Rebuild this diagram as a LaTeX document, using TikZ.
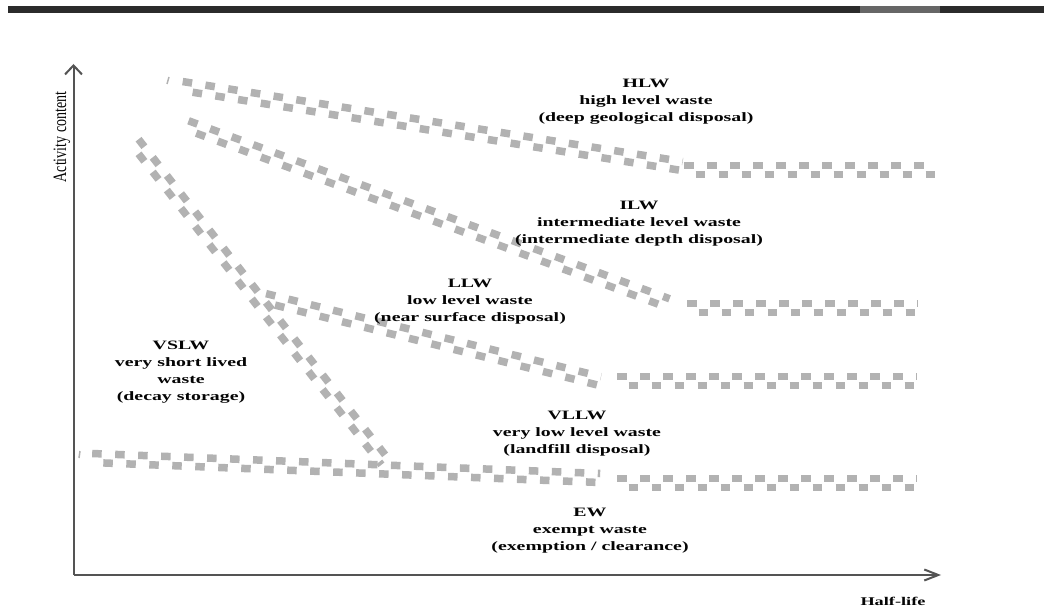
\documentclass[tikz,border=0pt]{standalone}
\usepackage{fontspec}
\setmainfont{Liberation Serif}
\newfontfamily\lblfont[FakeStretch=1.55]{Liberation Serif}
\usetikzlibrary{calc,arrows.meta}
\definecolor{bandgray}{gray}{0.70}
\definecolor{axisgray}{gray}{0.33}
\definecolor{bardark}{gray}{0.17}
\definecolor{barlight}{gray}{0.40}
\definecolor{txt}{gray}{0.02}
\tikzset{
  bandrow/.style={draw=bandgray, line width=7.5pt, dash pattern=on 9.5pt off 13.5pt},
  axisline/.style={draw=axisgray, line width=2pt},
  lbl/.style={font=\lblfont\bfseries\fontsize{12.8}{17}\selectfont, align=center, inner sep=0pt, text=txt},
  tickmark/.style={draw=bandgray, line width=1.5pt},
}
\newcommand\bandseg[2]{%
  \draw[bandrow] ($(#1)!4.5pt!90:(#2)$) -- ($(#2)!4.5pt!-90:(#1)$);
  \draw[bandrow,dash phase=11.5pt] ($(#1)!4.5pt!-90:(#2)$) -- ($(#2)!4.5pt!90:(#1)$);
}
\begin{document}
\begin{tikzpicture}[x=1pt,y=-1pt]
\useasboundingbox (0,0) rectangle (1044,609);
\fill[white] (0,0) rectangle (1044,609);
% top bar
\fill[bardark] (8,6) rectangle (1044,13);
\fill[barlight] (860,6) rectangle (940,13);

% band end points
\coordinate (b1a) at (182,86);
\coordinate (b1b) at (682,166);
\coordinate (b1c) at (684,170);
\coordinate (b1d) at (936,170);
\coordinate (b2a) at (187,125);
\coordinate (b2b) at (668,303);
\coordinate (b2c) at (687,308);
\coordinate (b2d) at (918,308);
\coordinate (b3a) at (265,298);
\coordinate (b3b) at (600,381);
\coordinate (b3c) at (617,381);
\coordinate (b3d) at (917,381);
\coordinate (b4a) at (92,458);
\coordinate (b4b) at (600,478);
\coordinate (b4c) at (617,483);
\coordinate (b4d) at (917,483);
\coordinate (b5a) at (135,142);
\coordinate (b5b) at (385,462);

\bandseg{b1a}{b1b}
\bandseg{b1c}{b1d}
\bandseg{b2a}{b2b}
\bandseg{b2c}{b2d}
\bandseg{b3a}{b3b}
\bandseg{b3c}{b3d}
\bandseg{b4a}{b4b}
\bandseg{b4c}{b4d}
\bandseg{b5a}{b5b}

\coordinate (t1a) at (169,77);
\coordinate (t1b) at (167,84);
\coordinate (t2a) at (80,451);
\coordinate (t2b) at (79,458);
\draw[tickmark] (t1a) -- (t1b);
\draw[tickmark] (t2a) -- (t2b);

% axes
\coordinate (org) at (73.5,575);
\coordinate (ytip) at (73.5,64);
\coordinate (xtip) at (941,575);
\draw[axisline, -{Straight Barb[length=9pt,width=17pt]}] (org) -- (ytip);
\draw[axisline, -{Straight Barb[length=14pt,width=11pt]}] (org) -- (xtip);

\node[rotate=90, inner sep=0pt, text=txt, font=\fontsize{14}{16}\selectfont] (ylab) at (62,137) {\scalebox{1}[1.35]{Activity content}};
\node[lbl, font=\lblfont\bfseries\fontsize{11.8}{14}\selectfont] (xlab) at (893,601) {Half-life};

% region labels
\node[lbl] (hlw) at (646,102) {HLW\\high level waste\\(deep geological disposal)};
\node[lbl] (ilw) at (639,224) {ILW\\intermediate level waste\\(intermediate depth disposal)};
\node[lbl] (llw) at (470,302) {LLW\\low level waste\\(near surface disposal)};
\node[lbl] (vslw) at (181,372) {VSLW\\very short lived\\waste\\(decay storage)};
\node[lbl] (vllw) at (577,434) {VLLW\\very low level waste\\(landfill disposal)};
\node[lbl] (ew) at (590,531) {EW\\exempt waste\\(exemption / clearance)};
\end{tikzpicture}
\end{document}
